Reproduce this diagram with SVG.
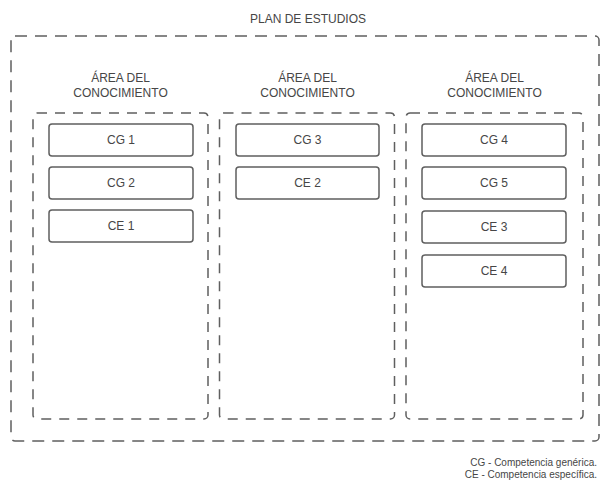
<svg xmlns="http://www.w3.org/2000/svg" width="605" height="483" viewBox="0 0 605 483">
  <style>
    .frame { fill: none; stroke: #5f5f5f; stroke-width: 1.5; stroke-dasharray: 12 8; }
    .area { fill: none; stroke: #5f5f5f; stroke-width: 1.5; stroke-dasharray: 10 8; }
    .box { fill: #ffffff; stroke: #5f5f5f; stroke-width: 1.5; }
    .lbl { font-family: "Liberation Sans", Arial, sans-serif; font-size: 12px; fill: #464646; text-anchor: middle; }
    .legend { font-family: "Liberation Sans", Arial, sans-serif; font-size: 10px; fill: #464646; text-anchor: end; }
  </style>
  <rect width="605" height="483" fill="#ffffff"/>

  <!-- outer study plan frame -->
  <g id="plan">
    <rect class="frame" x="11" y="36" width="588" height="405" rx="4"/>
    <text class="lbl" x="308" y="23">PLAN DE ESTUDIOS</text>
  </g>

  <!-- knowledge areas -->
  <g id="area1">
    <text class="lbl" x="120.5" y="82">ÁREA DEL</text>
    <text class="lbl" x="120.5" y="97">CONOCIMIENTO</text>
    <rect class="area" x="33" y="113" width="175" height="306" rx="4"/>
  </g>
  <g id="area2">
    <text class="lbl" x="307.5" y="82">ÁREA DEL</text>
    <text class="lbl" x="307.5" y="97">CONOCIMIENTO</text>
    <rect class="area" x="219.5" y="113" width="175" height="306" rx="4"/>
  </g>
  <g id="area3">
    <text class="lbl" x="494.5" y="82">ÁREA DEL</text>
    <text class="lbl" x="494.5" y="97">CONOCIMIENTO</text>
    <rect class="area" x="406" y="113" width="177" height="306" rx="4"/>
  </g>

  <!-- competences -->
  <g id="cg1">
    <rect class="box" x="49" y="124" width="144" height="32" rx="3"/>
    <text class="lbl" x="121" y="144">CG 1</text>
  </g>
  <g id="cg2">
    <rect class="box" x="49" y="167" width="144" height="32" rx="3"/>
    <text class="lbl" x="121" y="187">CG 2</text>
  </g>
  <g id="ce1">
    <rect class="box" x="49" y="210" width="144" height="32" rx="3"/>
    <text class="lbl" x="121" y="230">CE 1</text>
  </g>
  <g id="cg3">
    <rect class="box" x="236" y="124" width="143" height="32" rx="3"/>
    <text class="lbl" x="307.5" y="144">CG 3</text>
  </g>
  <g id="ce2">
    <rect class="box" x="236" y="167" width="143" height="32" rx="3"/>
    <text class="lbl" x="307.5" y="187">CE 2</text>
  </g>
  <g id="cg4">
    <rect class="box" x="422" y="124" width="144" height="32" rx="3"/>
    <text class="lbl" x="494" y="144">CG 4</text>
  </g>
  <g id="cg5">
    <rect class="box" x="422" y="167" width="144" height="32" rx="3"/>
    <text class="lbl" x="494" y="187">CG 5</text>
  </g>
  <g id="ce3">
    <rect class="box" x="422" y="211" width="144" height="32" rx="3"/>
    <text class="lbl" x="494" y="231">CE 3</text>
  </g>
  <g id="ce4">
    <rect class="box" x="422" y="255" width="144" height="32" rx="3"/>
    <text class="lbl" x="494" y="275">CE 4</text>
  </g>

  <g id="connectors"/>

  <!-- legend -->
  <g id="legend">
    <text class="legend" x="597" y="466">CG - Competencia genérica.</text>
    <text class="legend" x="597" y="478">CE - Competencia específica.</text>
  </g>
</svg>
